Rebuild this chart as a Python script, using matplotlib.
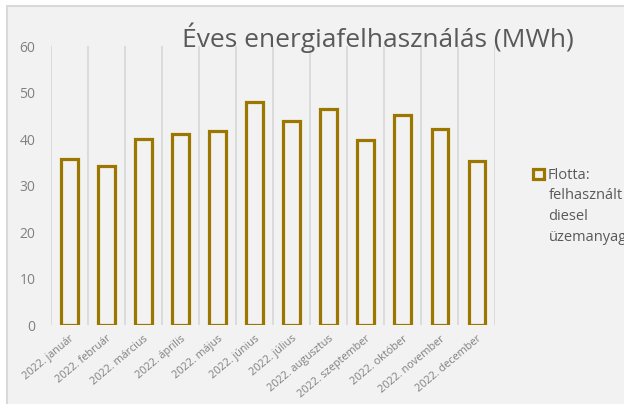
import matplotlib.pyplot as plt
import numpy as np
from matplotlib.patches import Rectangle

plt.rcParams['font.family'] = ['Open Sans', 'DejaVu Sans']

# Data
months = ['2022. január', '2022. február', '2022. március', '2022. április',
          '2022. május', '2022. június', '2022. július', '2022. augusztus',
          '2022. szeptember', '2022. október', '2022. november', '2022. december']
diesel = [35.8, 34.1, 40.1, 41.1, 41.8, 47.9, 43.9, 46.4, 39.8, 45.1, 42.1, 35.2]
yticks = [0, 10, 20, 30, 40, 50, 60]

bg = '#f2f2f2'
gold = '#9c7700'
txt = '#595959'

fig = plt.figure(figsize=(6.24, 4.04), dpi=100, facecolor='white')
# chart area frame (only top and left edges visible)
fig.patches.append(Rectangle((7 / 624, -0.1), 1, 1.1 - 6 / 404, transform=fig.transFigure,
                             facecolor=bg, edgecolor='#d9d9d9', lw=1.5, zorder=-10))

ax = fig.add_axes([0.0813, 0.1955, 0.7127, 0.6905])
ax.set_facecolor(bg)

x = np.arange(len(months))
ax.bar(x, diesel, width=0.45, facecolor='none', edgecolor=gold, lw=2.3,
       label='Flotta:', zorder=3)

ax.set_xlim(-0.5, len(months) - 0.5)
ax.set_ylim(0, 60)
ax.set_yticks(yticks)
ax.set_xticks(x)
ax.set_xticklabels(months, rotation=40, ha='right', rotation_mode='anchor',
                   fontsize=7.8, color='#808080')
ax.tick_params(axis='x', length=0, pad=6)
ax.tick_params(axis='y', length=0, pad=11, labelsize=10, labelcolor='#808080')

# vertical grid at category boundaries
ax.set_xticks(np.arange(-0.5, len(months), 1), minor=True)
ax.tick_params(axis='x', which='minor', length=0)
ax.grid(True, which='minor', axis='x', color='#d9d9d9', lw=1.3)
ax.set_axisbelow(True)
for s in ax.spines.values():
    s.set_visible(False)

fig.text(0.606, 0.907, 'Éves energiafelhasználás (MWh)', ha='center', va='center',
         fontsize=19, color=txt)

leg = ax.legend(loc='upper left', bbox_to_anchor=(1.056, 0.61), frameon=False,
                handlelength=0.7, handleheight=0.7, handletextpad=0.3,
                fontsize=10.5, labelcolor=txt)
fig.text(0.879, 0.535, 'felhasznált\ndiesel\nüzemanyag', ha='left', va='top',
         fontsize=10.5, color=txt, linespacing=1.55)

fig.savefig('out.png', dpi=100, facecolor='white')
